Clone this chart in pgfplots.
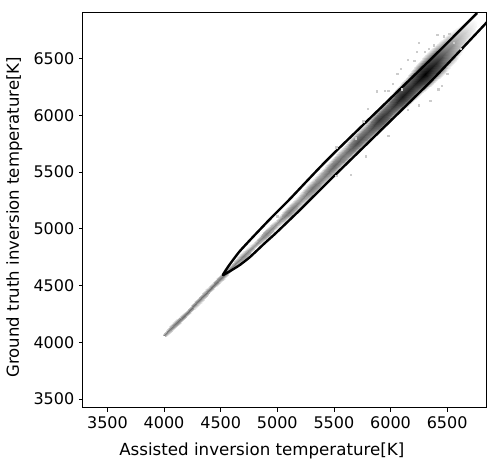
\documentclass[border=0pt]{standalone}
\usepackage{fontspec}
\setmainfont{DejaVu Sans}
\usepackage{pgfplots}
\pgfplotsset{compat=1.18}
\pgfplotstableread{
x y m
3986 4074 0
3993 4067 .3
4000 4060 .5
4007 4053 .3
4014 4046 0
4078 4184 0
4089 4173 .35
4100 4162 .55
4111 4151 .35
4122 4140 0
4182 4278 0
4191 4269 .35
4200 4260 .58
4209 4251 .35
4218 4242 0
4278 4384 0
4289 4373 .35
4300 4362 .55
4311 4351 .35
4322 4340 0
4382 4483 0
4391 4474 .35
4400 4465 .58
4409 4456 .35
4418 4447 0
4478 4587 0
4489 4576 .35
4500 4565 .55
4511 4554 .35
4522 4543 0
4582 4680 0
4591 4671 .32
4600 4662 .5
4609 4653 .32
4618 4644 0
4674 4786 0
4687 4773 .32
4700 4760 .5
4713 4747 .32
4726 4734 0
4780 4878 0
4790 4868 .26
4800 4858 .4
4810 4848 .26
4820 4838 0
4870 4985 0
4885 4970 .32
4900 4955 .5
4915 4940 .32
4930 4925 0
4976 5076 0
4988 5064 .27
5000 5052 .42
5012 5040 .27
5024 5028 0
5064 5186 0
5082 5168 .36
5100 5150 .55
5118 5132 .36
5136 5114 0
5168 5282 0
5184 5266 .29
5200 5250 .45
5216 5234 .29
5232 5218 0
5258 5392 0
5279 5371 .36
5300 5350 .55
5321 5329 .36
5342 5308 0
5356 5496 0
5378 5474 .32
5400 5452 .5
5422 5430 .32
5444 5408 0
5458 5600 0
5479 5579 .45
5500 5558 .6
5521 5537 .45
5542 5516 0
5556 5702 0
5578 5680 .41
5600 5658 .55
5622 5636 .41
5644 5614 0
5650 5808 0
5675 5783 .52
5700 5758 .7
5725 5733 .52
5750 5708 0
5748 5910 0
5774 5884 .49
5800 5858 .65
5826 5832 .49
5852 5806 0
5842 6016 0
5871 5987 .6
5900 5958 .8
5929 5929 .6
5958 5900 0
5940 6118 0
5970 6088 .56
6000 6058 .75
6030 6028 .56
6060 5998 0
6032 6228 0
6066 6194 .68
6100 6160 .9
6134 6126 .68
6168 6092 0
6126 6334 0
6163 6297 .64
6200 6260 .85
6237 6223 .64
6274 6186 0
6216 6446 0
6258 6404 .75
6300 6362 1
6342 6320 .75
6384 6278 0
6312 6552 0
6356 6508 .64
6400 6464 .85
6444 6420 .64
6488 6376 0
6416 6652 0
6458 6610 .41
6500 6568 .55
6542 6526 .41
6584 6484 0
6530 6742 0
6565 6707 .22
6600 6672 .3
6635 6637 .22
6670 6602 0
6650 6825 0
6675 6800 .07
6700 6775 .1
6725 6750 .07
6750 6725 0
6735 6860 0
6748 6847 0
6760 6835 0
6772 6823 0
6785 6810 0
}\densitygrid
\pgfplotstableread{
x y
5520 5720
5690 5800
5760 5950
5800 6060
5880 6215
5950 6220
6020 6280
6060 6370
6090 6415
6150 6490
6230 6560
6250 6640
6412 6710
6380 6620
6470 6700
6560 6640
6620 6590
6350 6130
6420 6230
6500 6370
6150 6050
5980 5820
5780 5640
5650 5480
5980 6220
6100 6230
5000 5110
5520 5470
6300 6560
6340 6590
6450 6260
6250 6090
6210 6480
6520 6720
}\specks
\begin{document}
\begin{tikzpicture}
\path[use as bounding box] (-62.25pt,-41.25pt) rectangle (312pt,306pt);
\begin{axis}[
  anchor=origin,at={(0,0)},
  scale only axis,
  width=302.25pt,
  height=296.25pt,
  xmin=3284,xmax=6843,
  ymin=3420,ymax=6904,
  xtick={3500,4000,4500,5000,5500,6000,6500},
  ytick={3500,4000,4500,5000,5500,6000,6500},
  /pgf/number format/assume math mode=true,
  /pgf/number format/1000 sep={},
  tick align=outside,
  tick pos=left,
  major tick length=3pt,
  tick style={black,line width=0.6pt},
  axis line style={line width=0.75pt},
  tick label style={font=\fontsize{12}{12}\selectfont},
  xlabel={Assisted inversion temperature[K]},
  ylabel={Ground truth inversion temperature[K]},
  xlabel style={font=\fontsize{12.5}{12.5}\selectfont,at={(axis description cs:0.5,0)},anchor=base,yshift=-36pt,xshift=-17pt},
  ylabel style={font=\fontsize{12.4}{12.4}\selectfont,at={(axis description cs:0,0.5)},anchor=base,yshift=48pt,xshift=-5pt},
  colormap={gw}{color(0)=(white); color(1)=(black)},
  point meta min=0,point meta max=1,
  axis on top,
]
\addplot[surf,shader=interp,mesh/rows=29,mesh/cols=5,point meta=\thisrow{m}] table[x=x,y=y] {\densitygrid};
\addplot[only marks,mark=square*,mark size=0.5pt,color=black!20] table[x=x,y=y] {\specks};
\addplot[black,line width=1.8pt,smooth,tension=0.3,line join=round] coordinates {
  (6764,6904) (6349,6489) (5466,5634) (5112,5264) (4936,5087) (4785,4929)
  (4670,4805) (4609,4726) (4564,4664) (4520,4593)
  (4600,4638) (4670,4682) (4759,4752) (4891,4876) (4979,4955) (5200,5167) (5510,5475)
  (6349,6295) (6852,6824)
};
\end{axis}
\end{tikzpicture}
\end{document}
